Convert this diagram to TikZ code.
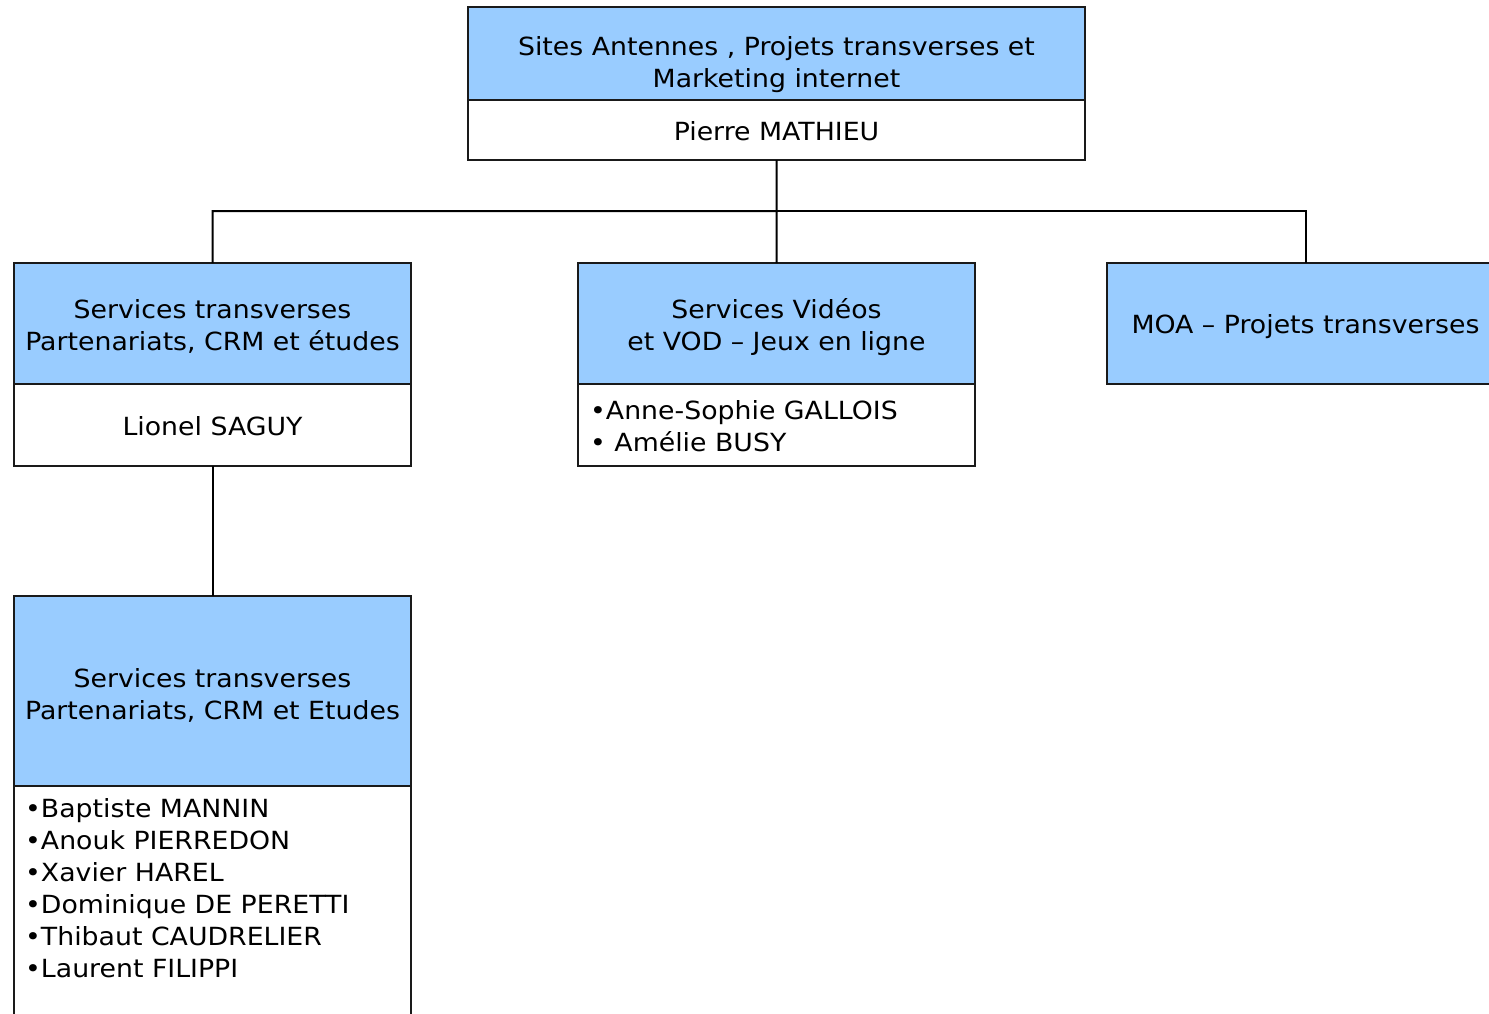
\documentclass[tikz,border=0pt]{standalone}
\usepackage{fontspec}
\setmainfont[FakeStretch=1.07]{DejaVu Sans}
\definecolor{boxblue}{HTML}{99CCFF}
\definecolor{boxline}{HTML}{1A1A1A}
\begin{document}
\begin{tikzpicture}[x=1bp,y=-1bp,
  boxbase/.style={draw=boxline, line width=1.3bp, anchor=north west, inner sep=0pt, outer sep=0pt},
  bluebox/.style={boxbase, fill=boxblue},
  whitebox/.style={boxbase, fill=white},
  txt/.style={font=\fontsize{25bp}{32bp}\selectfont, inner sep=0pt, align=center},
  listtxt/.style={font=\fontsize{25bp}{32bp}\selectfont, inner sep=0pt, align=left},
  conn/.style={draw=black, line width=2bp}]
\useasboundingbox (0,0) rectangle (1489,1013);
\clip (0,0) rectangle (1489,1013);
% top box
\node[bluebox, minimum width=617bp, minimum height=93bp] (topA) at (468,7) {};
\node[whitebox, minimum width=617bp, minimum height=60bp] (topW) at (468,100) {};
% left box
\node[bluebox, minimum width=397bp, minimum height=121bp] (leftA) at (14,263) {};
\node[whitebox, minimum width=397bp, minimum height=82bp] (leftW) at (14,384) {};
% middle box
\node[bluebox, minimum width=397bp, minimum height=121bp] (midA) at (578,263) {};
\node[whitebox, minimum width=397bp, minimum height=82bp] (midW) at (578,384) {};
% MOA box
\node[bluebox, minimum width=397bp, minimum height=121bp] (moaA) at (1107,263) {};
% bottom box
\node[bluebox, minimum width=397bp, minimum height=190bp] (botA) at (14,596) {};
\node[whitebox, minimum width=397bp, minimum height=240bp] (botW) at (14,786) {};
% connectors
\coordinate (bus) at (776.5,211);
\draw[conn] (topW.south) -- (bus) -| (leftA.north);
\draw[conn] (bus) -| (moaA.north);
\draw[conn] (bus) -- (midA.north);
\draw[conn] (leftW.south) -- (botA.north);
% texts (base anchor = baseline of last line)
\node[txt, anchor=base] (topT) at (776.5,87) {Sites Antennes , Projets transverses et\\Marketing internet};
\node[txt, anchor=base] (topN) at (776.5,140) {Pierre MATHIEU};
\node[txt, anchor=base] (leftT) at (212.5,350) {Services transverses\\Partenariats, CRM et études};
\node[txt, anchor=base] (leftN) at (212.5,435) {Lionel SAGUY};
\node[txt, anchor=base] (midT) at (776.5,350) {Services Vidéos\\et VOD – Jeux en ligne};
\node[listtxt, anchor=base west] (midN) at (590,451) {•Anne-Sophie GALLOIS\\• Amélie BUSY};
\node[txt, anchor=base] (moaT) at (1305.5,333) {MOA – Projets transverses};
\node[txt, anchor=base] (botT) at (212.5,719) {Services transverses\\Partenariats, CRM et Etudes};
\node[listtxt, anchor=base west] (botN) at (25,977) {•Baptiste MANNIN\\•Anouk PIERREDON\\•Xavier HAREL\\•Dominique DE PERETTI\\•Thibaut CAUDRELIER\\•Laurent FILIPPI};
\end{tikzpicture}
\end{document}
